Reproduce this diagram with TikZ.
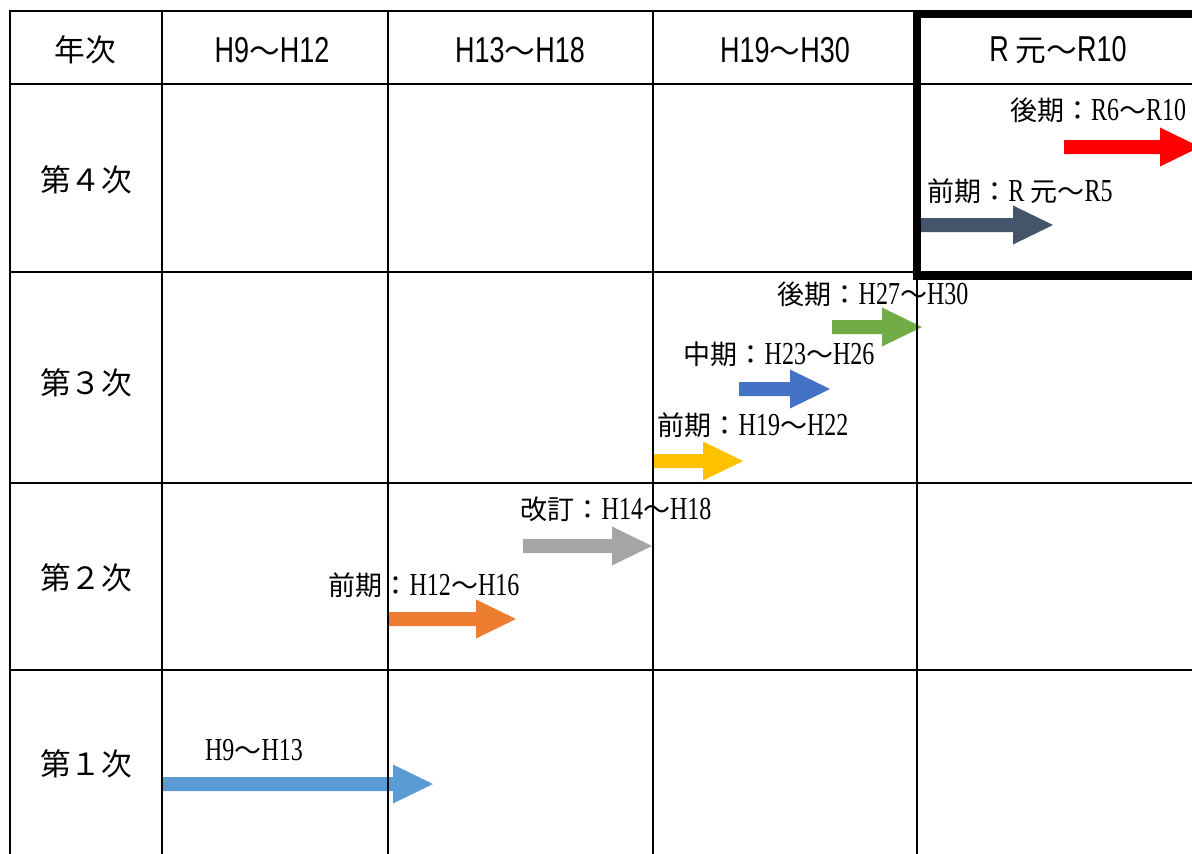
\documentclass[tikz,border=0pt]{standalone}
\usepackage{fontspec}
\setmainfont{Noto Sans CJK JP}
\newfontfamily\lserif[FakeStretch=0.75]{Liberation Serif}
\newfontfamily\lsans[FakeStretch=0.75]{Liberation Sans}
\newcommand\lats[1]{{\lsans\fontsize{27}{30}\selectfont #1}}
\newcommand\latr[1]{{\lserif\fontsize{24}{28}\selectfont #1}}
\definecolor{cLblue}{HTML}{5B9BD5}
\definecolor{cOrange}{HTML}{ED7D31}
\definecolor{cGray}{HTML}{A5A5A5}
\definecolor{cYellow}{HTML}{FFC000}
\definecolor{cBlue}{HTML}{4472C4}
\definecolor{cGreen}{HTML}{70AD47}
\definecolor{cSlate}{HTML}{44546A}
\definecolor{cRed}{HTML}{FF0000}
\newcommand\blockarrow[4]{\fill[#4] (#1,#3-7) -- (#2-40,#3-7) -- (#2-40,#3-19.5) -- (#2,#3) -- (#2-40,#3+19.5) -- (#2-40,#3+7) -- (#1,#3+7) -- cycle;}
\tikzset{
  hdr/.style={font=\fontsize{23}{28}\selectfont, inner sep=0pt},
  lbl/.style={font=\fontsize{20.25}{24}\selectfont, inner sep=0pt},
  thinline/.style={line width=1.5pt},
  thickframe/.style={line width=6pt, line join=miter},
}
\begin{document}
\begin{tikzpicture}[x=0.75pt,y=-0.75pt]
\useasboundingbox (0,0) rectangle (1192,853);
\clip (0,0) rectangle (1192,853);
% block arrows
\blockarrow{162}{433}{784}{cLblue}
\blockarrow{388}{516}{619}{cOrange}
\blockarrow{523}{652}{546}{cGray}
\blockarrow{653}{743}{461}{cYellow}
\blockarrow{739}{830}{389}{cBlue}
\blockarrow{832}{922}{327}{cGreen}
\blockarrow{918}{1053}{225}{cSlate}
\blockarrow{1064}{1200}{147}{cRed}
% grid
\draw[thinline] (10,11) -- (917,11);
\draw[thinline] (10,84) -- (1200,84);
\draw[thinline] (10,272) -- (1200,272);
\draw[thinline] (10,483) -- (1200,483);
\draw[thinline] (10,670) -- (1200,670);
\foreach \xx in {10,162,388,653} {\draw[thinline] (\xx,10.25) -- (\xx,860);}
\draw[thinline] (917,275) -- (917,860);
\draw[thickframe] (1210,14) -- (917,14) -- (917,275.5) -- (1210,275.5);
% header
\node[hdr] (h0) at (85,50) {年次};
\node[hdr] (h1) at (272,50) {\lats{H9}～\lats{H12}};
\node[hdr] (h2) at (520,50) {\lats{H13}～\lats{H18}};
\node[hdr] (h3) at (785,50) {\lats{H19}～\lats{H30}};
\node[hdr] (h4) at (1058,50) {\lats{R} 元～\lats{R10}};
% rows
\node[hdr] (r4) at (86,180) {第４次};
\node[hdr] (r3) at (86,383) {第３次};
\node[hdr] (r2) at (86,578) {第２次};
\node[hdr] (r1) at (86,764) {第１次};
% labels
\node[lbl] (l1) at (254,750) {\latr{H9}～\latr{H13}};
\node[lbl] (l2) at (424,585) {前期：\latr{H12}～\latr{H16}};
\node[lbl] (l3) at (616,509) {改訂：\latr{H14}～\latr{H18}};
\node[lbl] (l4) at (753,425) {前期：\latr{H19}～\latr{H22}};
\node[lbl] (l5) at (779,354) {中期：\latr{H23}～\latr{H26}};
\node[lbl] (l6) at (873,294) {後期：\latr{H27}～\latr{H30}};
\node[lbl] (l7) at (1020,191) {前期：\latr{R} 元～\latr{R5}};
\node[lbl] (l8) at (1098,110) {後期：\latr{R6}～\latr{R10}};
\end{tikzpicture}
\end{document}
